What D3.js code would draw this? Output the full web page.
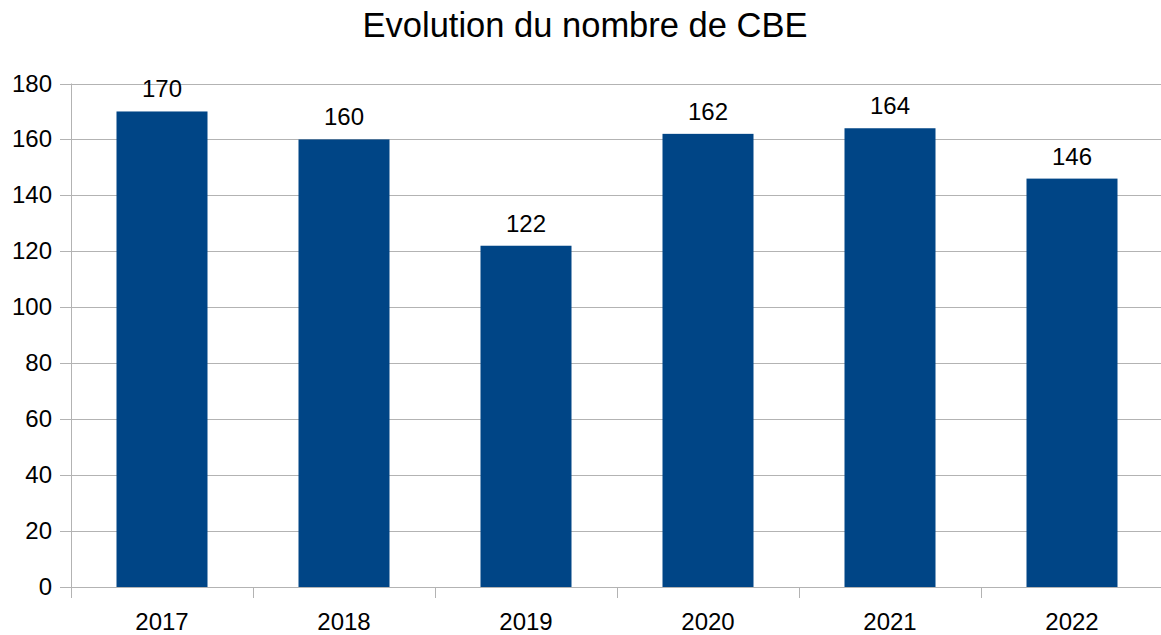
<!DOCTYPE html>
<html lang="en">
<head>
<meta charset="UTF-8">
<title>Evolution du nombre de CBE</title>
<style>
  body { margin: 0; background: #fff; }
  text { font-family: "Liberation Sans", Arial, sans-serif; fill: #000; }
  .grid line { stroke: #b3b3b3; stroke-width: 1; }
</style>
</head>
<body>
<svg id="chart" width="1161" height="635"></svg>
<script src="https://d3js.org/d3.v7.min.js"></script>
<script>
// chart data
const years = ["2017", "2018", "2019", "2020", "2021", "2022"];
const counts = [170, 160, 122, 162, 164, 146];
const yTicks = [0, 20, 40, 60, 80, 100, 120, 140, 160, 180];

const svg = d3.select("#chart");
const plotLeft = 71, plotRight = 1163, plotTop = 83.5, plotBottom = 587;

const x = d3.scaleBand().domain(years).range([plotLeft, plotRight]).paddingInner(0.5).paddingOuter(0.25);
const y = d3.scaleLinear().domain([0, 180]).range([plotBottom, plotTop]);

// title
svg.append("text")
  .attr("x", 585).attr("y", 37)
  .attr("text-anchor", "middle")
  .style("font-size", "34.5px")
  .text("Evolution du nombre de CBE");

// horizontal gridlines + left ticks
const grid = svg.append("g").attr("class", "grid");
grid.selectAll("line").data(yTicks).join("line")
  .attr("x1", plotLeft - 11).attr("x2", plotRight)
  .attr("y1", d => Math.round(y(d)) + 0.5).attr("y2", d => Math.round(y(d)) + 0.5);

// y axis line
svg.append("line")
  .attr("x1", plotLeft + 0.5).attr("x2", plotLeft + 0.5)
  .attr("y1", plotTop).attr("y2", plotBottom + 11)
  .attr("stroke", "#b3b3b3");

// y tick labels
svg.append("g").selectAll("text").data(yTicks).join("text")
  .attr("x", 52).attr("y", d => y(d) + 8)
  .attr("text-anchor", "end")
  .style("font-size", "24px")
  .text(d => d);

// x category ticks (between bands)
const catW = (plotRight - plotLeft) / years.length;
svg.append("g").selectAll("line").data(d3.range(1, years.length)).join("line")
  .attr("x1", i => Math.round(plotLeft + i * catW) + 0.5)
  .attr("x2", i => Math.round(plotLeft + i * catW) + 0.5)
  .attr("y1", plotBottom).attr("y2", plotBottom + 11)
  .attr("stroke", "#b3b3b3");

// bars
svg.append("g").selectAll("rect").data(counts).join("rect")
  .attr("x", (d, i) => x(years[i]))
  .attr("width", x.bandwidth())
  .attr("y", d => y(d))
  .attr("height", d => y(0) - y(d))
  .attr("fill", "#004586");

// value labels
svg.append("g").selectAll("text").data(counts).join("text")
  .attr("x", (d, i) => x(years[i]) + x.bandwidth() / 2)
  .attr("y", d => y(d) - 14)
  .attr("text-anchor", "middle")
  .style("font-size", "24px")
  .text(d => d);

// x labels
svg.append("g").selectAll("text").data(years).join("text")
  .attr("x", d => x(d) + x.bandwidth() / 2)
  .attr("y", 630)
  .attr("text-anchor", "middle")
  .style("font-size", "24px")
  .text(d => d);
</script>
</body>
</html>
